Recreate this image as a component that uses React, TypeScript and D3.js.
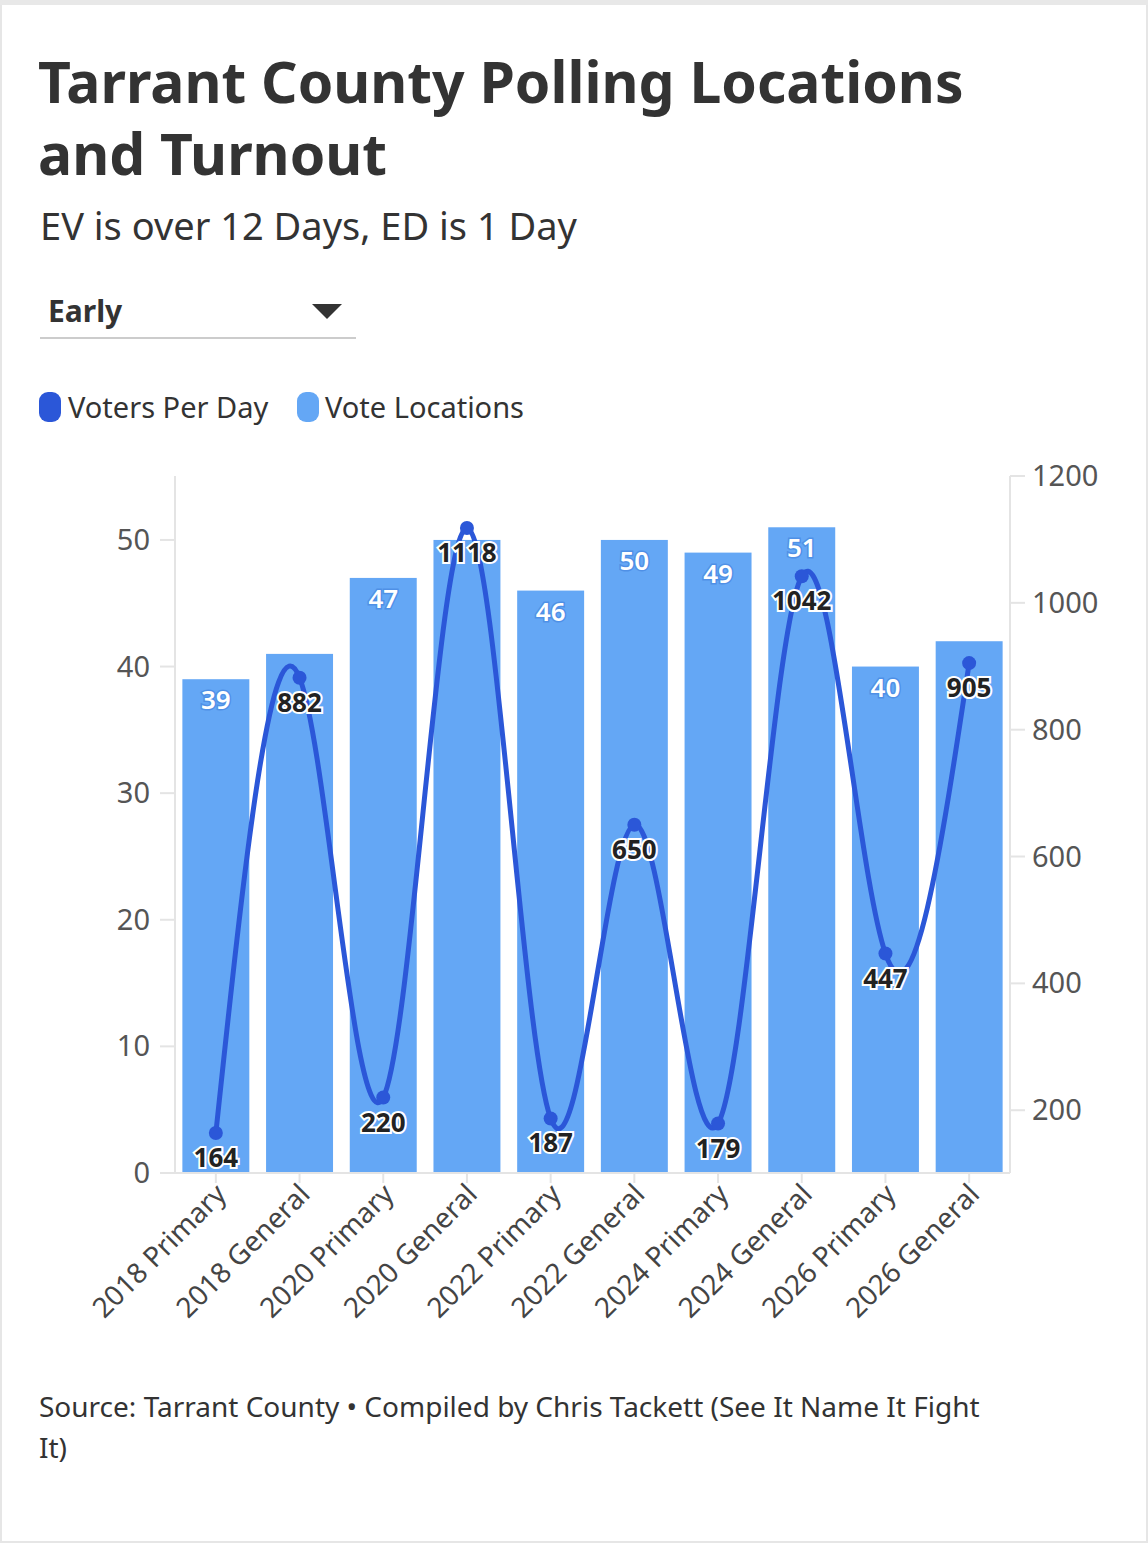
import * as d3 from "d3";

const categories = ["2018 Primary", "2018 General", "2020 Primary", "2020 General", "2022 Primary", "2022 General", "2024 Primary", "2024 General", "2026 Primary", "2026 General"];
const voteLocations = [39, 41, 47, 50, 46, 50, 49, 51, 40, 42];
const voteLocationLabels = [39, null, 47, null, 46, 50, 49, 51, 40, null];
const votersPerDay = [164, 882, 220, 1118, 187, 650, 179, 1042, 447, 905];
const leftTicks = [0, 10, 20, 30, 40, 50];
const rightTicks = [200, 400, 600, 800, 1000, 1200];

const W = 1148, H = 1543;
const font = "'Noto Sans', sans-serif";
const BAR = "#64a7f5", LINE = "#2b57d8";

export default function App() {
  const x = d3.scaleBand<string>().domain(categories).range([174, 1011]).paddingInner(0.2).paddingOuter(0.1);
  const yL = d3.scaleLinear().domain([0, 55.05]).range([1173, 476]);
  const yR = d3.scaleLinear().domain([101, 1200]).range([1173, 476]);
  const cx = (c: string) => (x(c) ?? 0) + x.bandwidth() / 2;
  const line = d3.line<number>().x((_, i) => cx(categories[i])).y((d) => yR(d)).curve(d3.curveNatural);

  return (
    <svg width={W} height={H} style={{ position: "absolute", left: 0, top: 0 }} fontFamily={font}>
      <rect x={1} y={1} width={W - 2} height={H - 2} fill="#fff" stroke="#e6e6e6" strokeWidth={2} />
      <rect x={0} y={0} width={W} height={5} fill="#e8e8e8" />
      <text x={38} y={103} fontSize={57} fontWeight={700} fill="#333">Tarrant County Polling Locations</text>
      <text x={38} y={175} fontSize={57} fontWeight={700} fill="#333">and Turnout</text>
      <text x={40} y={240} fontSize={38} fill="#333">EV is over 12 Days, ED is 1 Day</text>
      <text x={48} y={322} fontSize={30} fontWeight={700} fill="#333">Early</text>
      <path d="M312,304 L342,304 L327,319 Z" fill="#333" />
      <line x1={40} x2={356} y1={338} y2={338} stroke="#ccc" strokeWidth={2} />
      <rect x={39} y={392} width={22} height={30} rx={9} fill={LINE} />
      <text x={68} y={418} fontSize={29} fill="#333">Voters Per Day</text>
      <rect x={297} y={392} width={22} height={30} rx={9} fill={BAR} />
      <text x={325} y={418} fontSize={29} fill="#333">Vote Locations</text>

      <line x1={175} x2={175} y1={476} y2={1173} stroke="#e4e4e4" strokeWidth={2} />
      <line x1={1010} x2={1010} y1={476} y2={1173} stroke="#e4e4e4" strokeWidth={2} />
      {leftTicks.map((t) => (
        <g key={t}>
          <line x1={160} x2={175} y1={yL(t)} y2={yL(t)} stroke="#e4e4e4" strokeWidth={2} />
          <text x={150} y={yL(t) + 10} textAnchor="end" fontSize={29} fill="#555">{t}</text>
        </g>
      ))}
      {rightTicks.map((t) => (
        <g key={t}>
          <line x1={1010} x2={1025} y1={yR(t)} y2={yR(t)} stroke="#e4e4e4" strokeWidth={2} />
          <text x={1032} y={yR(t) + 10} fontSize={29} fill="#555">{t}</text>
        </g>
      ))}
      {categories.map((c, i) => (
        <rect key={c} x={x(c)} y={yL(voteLocations[i])} width={x.bandwidth()} height={yL(0) - yL(voteLocations[i])} fill={BAR} />
      ))}
      <line x1={175} x2={1010} y1={1173} y2={1173} stroke="#e4e4e4" strokeWidth={2} />
      {categories.map((c, i) => voteLocationLabels[i] != null && (
        <text key={c} x={cx(c)} y={yL(voteLocations[i]) + 30} textAnchor="middle" fontSize={26} fontWeight={600}
          fill="#fff" stroke="#4f90e6" strokeWidth={3} paintOrder="stroke">{voteLocationLabels[i]}</text>
      ))}
      <path d={line(votersPerDay) ?? ""} fill="none" stroke={LINE} strokeWidth={5} />
      {categories.map((c, i) => (
        <circle key={c} cx={cx(c)} cy={yR(votersPerDay[i])} r={7} fill={LINE} />
      ))}
      {categories.map((c, i) => (
        <text key={c} x={cx(c)} y={yR(votersPerDay[i]) + 34} textAnchor="middle" fontSize={26} fontWeight={700}
          fill="#222" stroke="#fff" strokeWidth={4} paintOrder="stroke">{votersPerDay[i]}</text>
      ))}
      {categories.map((c) => (
        <g key={c}>
          <line x1={cx(c)} x2={cx(c)} y1={1173} y2={1183} stroke="#e4e4e4" strokeWidth={2} />
          <text transform={`translate(${cx(c) + 12},${1196}) rotate(-45)`} textAnchor="end" fontSize={28} fill="#444">{c}</text>
        </g>
      ))}
      <text x={39} y={1417} fontSize={28} fill="#333">Source: Tarrant County • Compiled by Chris Tackett (See It Name It Fight</text>
      <text x={39} y={1458} fontSize={28} fill="#333">It)</text>
    </svg>
  );
}
